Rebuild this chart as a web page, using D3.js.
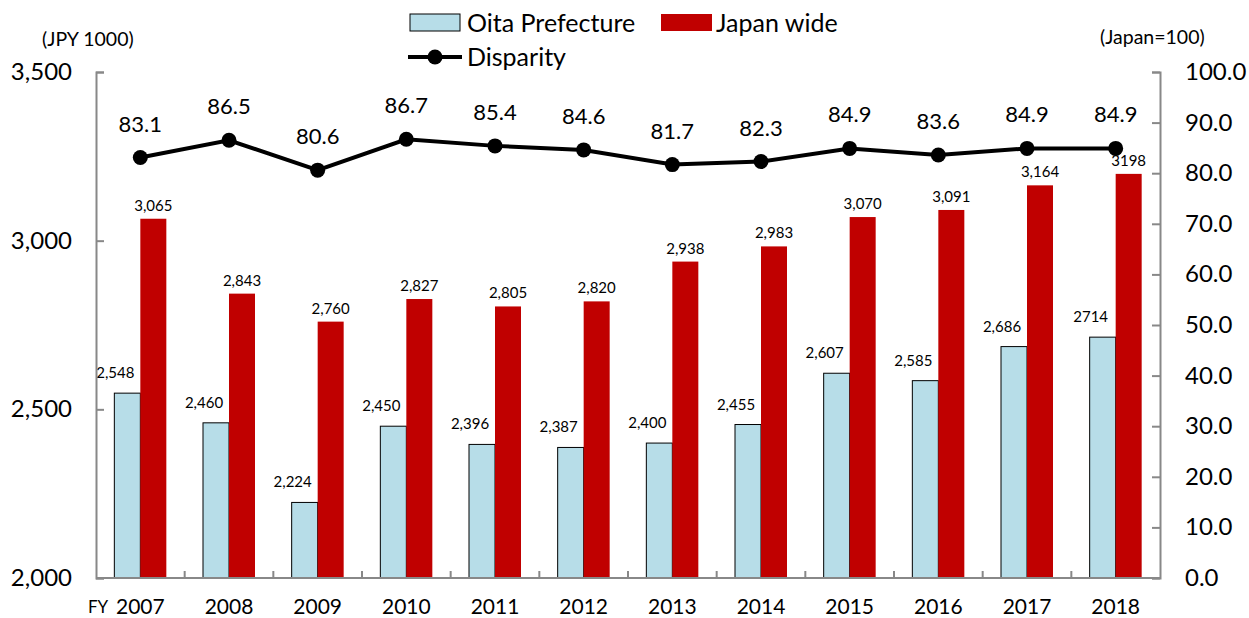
<!DOCTYPE html>
<html><head><meta charset="utf-8">
<script src="https://cdn.jsdelivr.net/npm/d3@7"></script>
<style>body{margin:0;background:#fff;font-family:Lato,"Open Sans",sans-serif}</style>
</head><body>
<svg id="c" width="1249" height="618"></svg>
<script>
const years = ["2007","2008","2009","2010","2011","2012","2013","2014","2015","2016","2017","2018"];
const oita = [2548,2460,2224,2450,2396,2387,2400,2455,2607,2585,2686,2714];
const japan = [3065,2843,2760,2827,2805,2820,2938,2983,3070,3091,3164,3198];
const disparity = [83.1,86.5,80.6,86.7,85.4,84.6,81.7,82.3,84.9,83.6,84.9,84.9];
const oitaLabels = ["2,548","2,460","2,224","2,450","2,396","2,387","2,400","2,455","2,607","2,585","2,686","2714"];
const japanLabels = ["3,065","2,843","2,760","2,827","2,805","2,820","2,938","2,983","3,070","3,091","3,164","3198"];
const leftTicks = [2000,2500,3000,3500];
const rightTicks = [0,10,20,30,40,50,60,70,80,90,100];

const svg = d3.select("#c");
const L=96, R=1160, T=72, B=578;
const x = d3.scaleBand().domain(years).range([L,R]).paddingInner(0).paddingOuter(0);
const yL = d3.scaleLinear().domain([2000,3500]).range([B,T]);
const yR = d3.scaleLinear().domain([0,100]).range([B,T]);
const bw = 26;
const font = "Lato, 'Open Sans', sans-serif";

// bars
svg.selectAll(".oita").data(years).enter().append("rect")
  .attr("x", d=>x(d)+x.bandwidth()/2-bw).attr("width", bw)
  .attr("y", (d,i)=>yL(oita[i])).attr("height",(d,i)=>B-yL(oita[i]))
  .attr("fill","#b7dde8").attr("stroke","#000").attr("stroke-width",1);
svg.selectAll(".jp").data(years).enter().append("rect")
  .attr("x", d=>x(d)+x.bandwidth()/2).attr("width", bw)
  .attr("y", (d,i)=>yL(japan[i])).attr("height",(d,i)=>B-yL(japan[i]))
  .attr("fill","#c00000");

// bar labels
svg.selectAll(".ol").data(years).enter().append("text")
  .attr("x", d=>x(d)+x.bandwidth()/2-bw/2-12).attr("y",(d,i)=>yL(oita[i])-15)
  .attr("text-anchor","middle").attr("font-size",15).attr("font-family",font).attr("fill","#000")
  .text((d,i)=>oitaLabels[i]);
svg.selectAll(".jl").data(years).enter().append("text")
  .attr("x", d=>x(d)+x.bandwidth()/2+bw/2).attr("y",(d,i)=>yL(japan[i])-8)
  .attr("text-anchor","middle").attr("font-size",15).attr("font-family",font).attr("fill","#000")
  .text((d,i)=>japanLabels[i]);

// axes
const axisColor="#888";
const gl = svg.append("g").attr("transform",`translate(${L},0)`)
  .call(d3.axisRight(yL).tickValues(leftTicks).tickSize(8).tickFormat(""));
const gr = svg.append("g").attr("transform",`translate(${R},0)`)
  .call(d3.axisLeft(yR).tickValues(rightTicks).tickSize(8).tickFormat(""));
const gb = svg.append("g").attr("transform",`translate(0,${B})`)
  .call(d3.axisBottom(x).tickSize(0).tickFormat(""));
[gl,gr,gb].forEach(g=>{g.selectAll("path,line").attr("stroke",axisColor).attr("stroke-width",2);});
gb.select("path").attr("d",`M${L},0H${R}`);
// category separator ticks (inward)
svg.selectAll(".sep").data(years.slice(1)).enter().append("line")
  .attr("x1",d=>x(d)).attr("x2",d=>x(d)).attr("y1",B).attr("y2",B-7)
  .attr("stroke",axisColor).attr("stroke-width",2);

// tick labels
svg.selectAll(".ltl").data(leftTicks).enter().append("text")
  .attr("x",72).attr("y",d=>yL(d)+8).attr("text-anchor","end")
  .attr("font-size",24).attr("font-family",font).text(d=>d3.format(",")(d));
svg.selectAll(".rtl").data(rightTicks).enter().append("text")
  .attr("x",1185).attr("y",d=>yR(d)+8).attr("text-anchor","start")
  .attr("font-size",24).attr("font-family",font).text(d=>d3.format(".1f")(d));
svg.selectAll(".xtl").data(years).enter().append("text")
  .attr("x",d=>x(d)+x.bandwidth()/2).attr("y",614).attr("text-anchor","middle")
  .attr("font-size",21).attr("font-family",font).text(d=>d);
svg.append("text").attr("x",88).attr("y",613).attr("font-size",17).attr("font-family",font).text("FY");
svg.append("text").attr("x",42).attr("y",46).attr("font-size",19.5).attr("font-family",font).text("(JPY 1000)");
svg.append("text").attr("x",1100).attr("y",44).attr("font-size",19.5).attr("font-family",font).text("(Japan=100)");

// disparity line
const line = d3.line().x((d,i)=>x(years[i])+x.bandwidth()/2).y(d=>yR(d));
svg.append("path").datum(disparity).attr("d",line).attr("fill","none").attr("stroke","#000").attr("stroke-width",4);
svg.selectAll(".dp").data(disparity).enter().append("circle")
  .attr("cx",(d,i)=>x(years[i])+x.bandwidth()/2).attr("cy",d=>yR(d)).attr("r",7.5).attr("fill","#000");
svg.selectAll(".dl").data(disparity).enter().append("text")
  .attr("x",(d,i)=>x(years[i])+x.bandwidth()/2).attr("y",d=>yR(d)-26)
  .attr("text-anchor","middle").attr("font-size",22).attr("font-family",font).text(d=>d3.format(".1f")(d));

// legend
const lg = svg.append("g").attr("font-family",font).attr("font-size",25);
lg.append("rect").attr("x",410).attr("y",14).attr("width",50).attr("height",17).attr("fill","#b7dde8").attr("stroke","#000").attr("stroke-width",1);
lg.append("text").attr("x",467).attr("y",32).text("Oita Prefecture");
lg.append("rect").attr("x",661).attr("y",14).attr("width",51).attr("height",17).attr("fill","#c00000");
lg.append("text").attr("x",716).attr("y",32).text("Japan wide");
lg.append("line").attr("x1",408).attr("x2",462).attr("y1",57).attr("y2",57).attr("stroke","#000").attr("stroke-width",4);
lg.append("circle").attr("cx",435).attr("cy",57).attr("r",7.5).attr("fill","#000");
lg.append("text").attr("x",467).attr("y",66).text("Disparity");
</script>
</body></html>
